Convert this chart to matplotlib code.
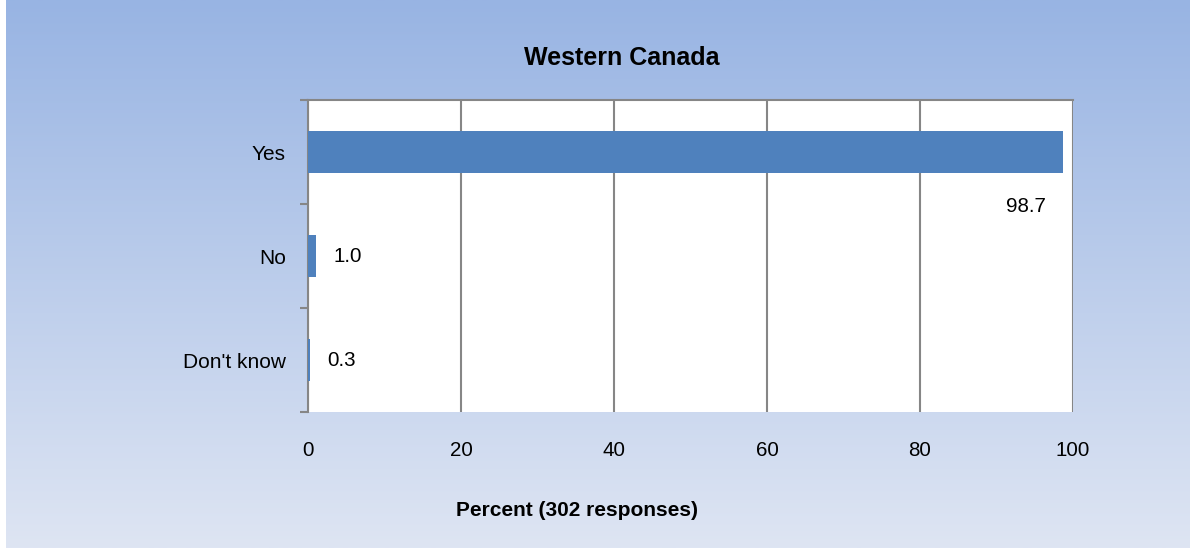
import numpy as np
import matplotlib
matplotlib.use("Agg")
import matplotlib.pyplot as plt
from matplotlib.colors import LinearSegmentedColormap

categories = ["Yes", "No", "Don't know"]
values = [98.7, 1.0, 0.3]
title = "Western Canada"
xlabel = "Percent (302 responses)"

plt.rcParams['font.family'] = ['Liberation Sans', 'DejaVu Sans']

fig = plt.figure(figsize=(11.91, 5.48), dpi=100)
fig.patch.set_facecolor('white')

# gradient background
bg = fig.add_axes([6 / 1191, 0, 1184 / 1191, 1])
bg.set_axis_off()
cmap = LinearSegmentedColormap.from_list('bg', ['#98b4e3', '#dee5f3'])
bg.imshow(np.linspace(0, 1, 256).reshape(-1, 1), aspect='auto', cmap=cmap,
          extent=[0, 1, 0, 1])

# plot area: x 308..1073, y 100..412 (pixels from top)
ax = fig.add_axes([308 / 1191, 1 - 412 / 548, 765 / 1191, 312 / 548])
ax.set_facecolor('white')

y = np.arange(len(categories))
ax.barh(y, values, height=0.4, color='#4f81bd', zorder=3)
ax.set_xlim(0, 100)
ax.set_ylim(len(categories) - 0.5, -0.5)

ax.set_xticks(np.arange(0, 101, 20))
ax.tick_params(axis='x', length=0, pad=21, labelsize=14.8)
ax.grid(axis='x', color='#868686', linewidth=1.5, zorder=1)

# boundary ticks (major) and category labels (minor)
ax.set_yticks(np.arange(-0.5, len(categories), 1))
ax.set_yticklabels([])
ax.tick_params(axis='y', which='major', length=6, width=1.5, color='#868686')
ax.set_yticks(y, minor=True)
ax.set_yticklabels(categories, minor=True)
ax.tick_params(axis='y', which='minor', length=0, pad=16, labelsize=15)

for s in ['bottom', 'right']:
    ax.spines[s].set_visible(False)
for s in ['left', 'top']:
    ax.spines[s].set_color('#868686')
    ax.spines[s].set_linewidth(1.5)

# data labels
ax.annotate(f"{values[0]:.1f}", (values[0], y[0]), xytext=(-27, -39),
            textcoords='offset points', ha='center', va='center', fontsize=14.8)
for i in range(1, len(values)):
    ax.annotate(f"{values[i]:.1f}", (values[i], y[i]), xytext=(12.5, 0),
                textcoords='offset points', ha='left', va='center', fontsize=14.8)

fig.text(622 / 1191, 1 - 58 / 548, title, ha='center', va='center',
         fontsize=18, fontweight='bold')
fig.text(577 / 1191, 1 - 511 / 548, xlabel, ha='center', va='center',
         fontsize=15, fontweight='bold')

fig.savefig('out.png', dpi=100)
